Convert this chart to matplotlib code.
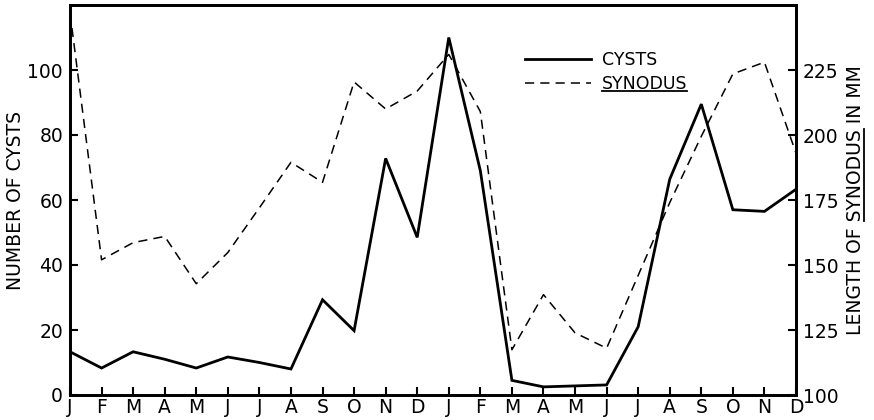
import numpy as np
import matplotlib

matplotlib.use("Agg")
import matplotlib.pyplot as plt
from matplotlib.lines import Line2D

plt.rcParams["font.family"] = ["DejaVu Sans"]

months = ["J", "F", "M", "A", "M", "J", "J", "A", "S", "O", "N", "D",
          "J", "F", "M", "A", "M", "J", "J", "A", "S", "O", "N", "D"]
cysts = [13.3, 8.3, 13.3, 11.0, 8.3, 11.7, 10.0, 8.0, 29.3, 19.8, 72.8, 48.5,
         110.0, 69.0, 4.5, 2.5, 2.8, 3.1, 21.0, 66.4, 89.5, 57.0, 56.5, 63.3]
synodus_mm = [247, 152, 158.6, 161, 142.8, 154.8, 172, 189.5, 181.8, 220.4, 210, 216.9,
              231, 209, 117.4, 138.6, 123.9, 118, 146, 174, 199.5, 223.5, 228, 193]
left_ticks = [0, 20, 40, 60, 80, 100]
right_ticks = [100, 125, 150, 175, 200, 225]

FS = 13.5
x = np.arange(len(months))

fig = plt.figure(figsize=(8.74, 4.20), dpi=100)
ax = fig.add_axes([70 / 874, 25 / 420, 726 / 874, 390 / 420])
ax2 = ax.twinx()

l1, = ax.plot(x, cysts, color="black", lw=2.0, solid_joinstyle="miter", label="CYSTS")
l2, = ax2.plot(x, synodus_mm, color="black", lw=1.1, dashes=(6, 4), label="SYNODUS")

ax.set_xlim(0, 23)
ax.set_ylim(0, 120)
ax2.set_ylim(100, 250)

ax.set_xticks(x)
ax.set_xticklabels(months)
ax.set_yticks(left_ticks)
ax2.set_yticks(right_ticks)

ax.tick_params(axis="x", direction="in", length=6, width=1.5, pad=2, labelsize=FS)
ax.tick_params(axis="y", direction="in", length=6, width=1.5, pad=5, labelsize=FS)
ax2.tick_params(axis="y", direction="in", length=6, width=1.5, pad=5, labelsize=FS)

for a in (ax, ax2):
    for s in a.spines.values():
        s.set_linewidth(2.0)

ax.set_ylabel("NUMBER OF CYSTS", fontsize=FS, labelpad=2)
ax2.set_ylabel("LENGTH OF SYNODUS IN MM", fontsize=FS, labelpad=5)

leg = ax.legend([l1, l2], ["CYSTS", "SYNODUS"], frameon=False, loc="upper left",
                bbox_to_anchor=(0.615, 0.905), handlelength=3.8, handletextpad=0.6,
                borderpad=0, labelspacing=0.35, fontsize=FS - 1)

# underline the genus name (legend and right axis label)
fig.canvas.draw()
r = fig.canvas.get_renderer()
inv = fig.transFigure.inverted()

bb = leg.get_texts()[1].get_window_extent(r)
(x0, y0), (x1, _) = inv.transform([(bb.x0, bb.y0 + 2), (bb.x1, bb.y0 + 2)])
fig.add_artist(Line2D([x0, x1], [y0, y0], color="black", lw=1.3, transform=fig.transFigure))

lab = ax2.yaxis.label
lb = lab.get_window_extent(r)
t_all = fig.text(0, 0, "LENGTH OF SYNODUS", fontsize=FS)
t_syn = fig.text(0, 0, "SYNODUS", fontsize=FS)
w_all = t_all.get_window_extent(r).width
w_syn = t_syn.get_window_extent(r).width
t_all.remove()
t_syn.remove()
ys0 = lb.y0 + (w_all - w_syn)
ys1 = lb.y0 + w_all
xu = lb.x1 - 1
(ux, uy0), (_, uy1) = inv.transform([(xu, ys0), (xu, ys1)])
fig.add_artist(Line2D([ux, ux], [uy0, uy1], color="black", lw=1.3, transform=fig.transFigure))

fig.savefig("out.png", dpi=100)
